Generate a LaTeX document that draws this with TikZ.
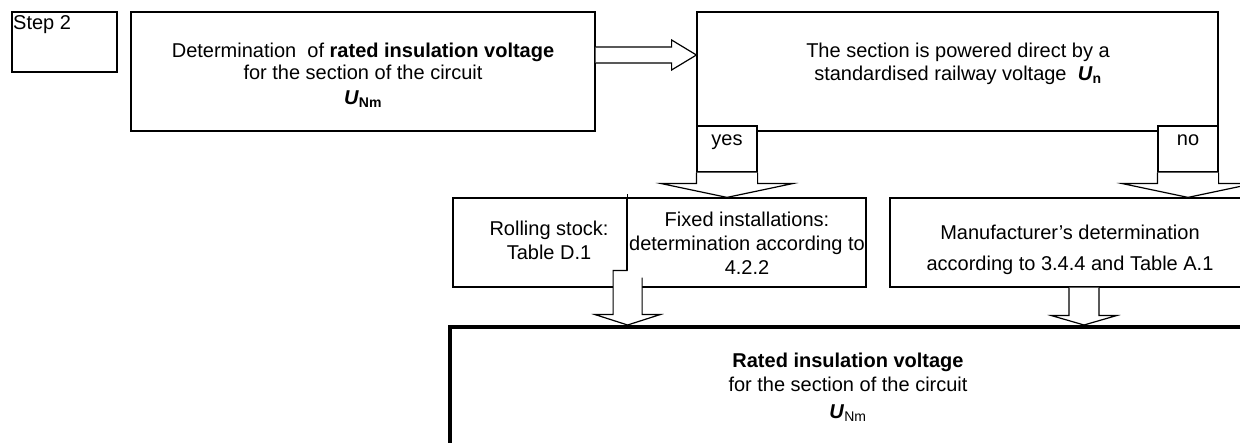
\documentclass[tikz,border=0pt]{standalone}
\usepackage{fontspec}
\setmainfont{Liberation Sans}
\usetikzlibrary{calc}

\begin{document}
\begin{tikzpicture}[x=1pt, y=-1pt, font=\fontsize{20}{22}\selectfont,
    box/.style={draw, line width=1.2pt, fill=white, inner sep=0pt},
    txt/.style={align=center, inner sep=0pt},
    fat/.style={draw, line width=1.2pt, fill=white}]
    \useasboundingbox (0,0) rectangle (1240,443);
    \clip (0,0) rectangle (1240,443);

    % Các khung
    \node[box, minimum width=105, minimum height=60] (step) at (64.5,42) {};
    \node[box, minimum width=464, minimum height=119] (det) at (363,71.5) {};
    \node[box, minimum width=521, minimum height=119] (quest) at (957.5,71.5) {};
    \node[box, minimum width=60, minimum height=46] (yes) at (727,149) {};
    \node[box, minimum width=60, minimum height=46] (no) at (1188,149) {};
    \node[box, minimum width=174, minimum height=89] (rolling) at (540,242.5) {};
    \node[box, minimum width=239, minimum height=89] (fixed) at (746.5,242.5) {};
    \node[box, minimum width=360, minimum height=89] (manu) at (1070,242.5) {};
    \node[box, line width=4pt, minimum width=796, minimum height=124] (res) at (848,389) {};
    \draw[line width=1.2pt] (rolling.north east) -- ++(0,-3);

    % Mũi tên
    \coordinate (r0) at ($(det.east)+(0,-16.5)$);
    \draw[fat] ($(r0)+(0,-8)$) -- ++(76,0) -- ++(0,-7) -- (quest.west |- r0)
        -- ($(r0)+(76,15)$) -- ++(0,-7) -- ($(r0)+(0,8)$);
    \draw[fat] (yes.south west) -- ++(0,11) -- ++(-35,0) -- (yes.south |- fixed.north)
        -- ($(yes.south east)+(35,11)$) -- ++(-35,0) -- (yes.south east);
    \draw[fat] (no.south west) -- ++(0,11) -- ++(-35,0) -- (no.south |- manu.north)
        -- ($(no.south east)+(35,11)$) -- ++(-35,0) -- (no.south east);
    \coordinate (f0) at (rolling.south east);
    \draw[fat] ($(f0)+(0,-17)$) -- ++(-14.5,0) -- ++(0,44) -- ++(-18,0) -- (f0 |- res.north)
        -- ($(f0)+(32.5,27)$) -- ++(-18,0) -- ($(f0)+(14.5,-10)$);
    \coordinate (m0) at ($(manu.south)+(14,0)$);
    \draw[fat] ($(m0)+(-15,0)$) -- ++(0,28) -- ++(-17.5,0) -- (m0 |- res.north)
        -- ($(m0)+(32.5,28)$) -- ++(-17.5,0) -- ($(m0)+(15,0)$);

    % Chữ
    \node[anchor=base west, inner sep=0pt] (step-t) at (13,30) {Step 2};
    \node[txt] (det-t) at ($(det)+(0,4.2)$) {Determination~ of \textbf{rated insulation voltage}\\
        for the section of the circuit\\[3pt] \textbf{\textit{U}}\textsubscript{\textbf{Nm}}};
    \node[txt] (quest-t) at ($(quest)+(0.5,-7.7)$) {The section is powered direct by a\\[1pt]
        standardised railway voltage~ \textbf{\textit{U}}\textsubscript{\textbf{n}}};
    \node[anchor=base, inner sep=0pt] (yes-t) at ($(yes)+(0,-3)$) {yes};
    \node[anchor=base, inner sep=0pt] (no-t) at ($(no)+(0,-3)$) {no};
    \node[txt] (rolling-t) at ($(rolling)+(9,-1.8)$) {Rolling stock:\\[2pt] Table D.1};
    \node[txt] (fixed-t) at ($(fixed)+(0.5,1.2)$) {Fixed installations:\\[2pt]
        determination according to\\[2pt] 4.2.2};
    \node[txt] (manu-t) at ($(manu)+(0,7.8)$) {Manufacturer’s determination\\[9pt]
        according to 3.4.4 and Table A.1};
    \node[txt] (res-t) at ($(res)+(0,-1.8)$) {\textbf{Rated insulation voltage}\\[2pt]
        for the section of the circuit\\[5pt] \textbf{\textit{U}}\textsubscript{Nm}};
\end{tikzpicture}
\end{document}
